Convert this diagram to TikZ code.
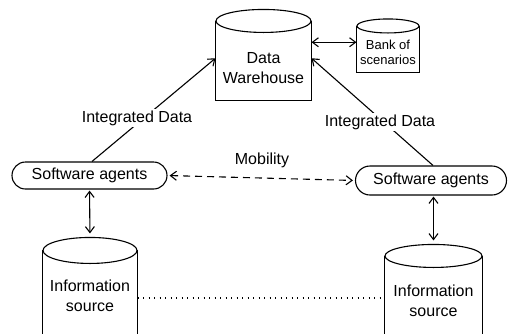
\documentclass[tikz,border=0pt]{standalone}
\usepackage{fontspec}
\setmainfont{Liberation Sans}
\usetikzlibrary{arrows.meta,shapes.misc}

% #1 name, #2 centre x, #3 centre y of the top ellipse, #4 half width,
% #5 vertical radius of the top ellipse, #6 lower end of the sides
\newcommand{\drum}[6]{%
  \node[drumbody, minimum width={2*#4}, minimum height={#6-#3}] (#1) at (#2,{(#3+#6)/2}) {};
  \fill[white] (#1.south west) rectangle (#1.north east);
  \draw (#1.north west) -- (#1.south west);
  \draw (#1.north east) -- (#1.south east);
  \draw[fill=white] (#1.north) ellipse [x radius=#4, y radius=#5];
}

\begin{document}
\begin{tikzpicture}[x=1pt,y=-1pt,
  line width=1.1pt,
  >={Straight Barb[length=6pt,width=9pt]},
  txt/.style={font=\fontsize{16}{19.5}\selectfont, align=center, inner sep=2pt},
  small/.style={font=\fontsize{13}{15}\selectfont, align=center, inner sep=1pt},
  drumbody/.style={rectangle, draw=none, inner sep=0pt},
  agent/.style={rounded rectangle, draw, fill=white, inner sep=0pt,
    font=\fontsize{16}{19}\selectfont},
  cut/.style={fill=white, txt},
  mob/.style={dash pattern=on 7pt off 5pt},
  dots/.style={line width=1.4pt, dash pattern=on 1.4pt off 4.1pt}
]
\useasboundingbox (0,0) rectangle (508,333);

% storage drums
\drum{dw}{263.5}{21.5}{47.5}{11.5}{100}
\draw (dw.south west) -- (dw.south east);
\node[txt] (dwt) at (263.5,68) {Data\\Warehouse};

\drum{bank}{388}{26.5}{31}{7}{72}
\draw (bank.south west) -- (bank.south east);
\node[small] (bankt) at (388,52) {Bank of\\scenarios};

\drum{lis}{90}{251}{47}{13}{333}
\node[txt] (list) at (90,296) {Information\\source};

\drum{ris}{433.5}{256.5}{48.5}{11.5}{333}
\node[txt] (rist) at (433.5,301) {Information\\source};

% agents
\node[agent, minimum width=155pt, minimum height=27pt] (lsa) at (89.5,175.5) {Software agents};
\node[agent, minimum width=151pt, minimum height=29pt] (rsa) at (431,180.5) {Software agents};

% connectors
\draw[<->] ([yshift=7pt]bank.west -| dw.east) -- ([yshift=7pt]bank.west);

\draw[->] ([xshift=2.5pt]lsa.north) -- ([yshift=2.5pt]dw.west);
\node[cut] (lid) at (137,118) {Integrated Data};

\draw[->] ([xshift=2pt]rsa.north) -- ([yshift=2.5pt]dw.east);
\node[cut] (rid) at (380,122) {Integrated Data};

\draw[<->, mob, shorten <=2pt, shorten >=2pt] (lsa.east) -- (rsa.west);
\node[txt] (mobl) at (262,160) {Mobility};

\draw[<->, shorten <=1pt, shorten >=4pt] (lsa.south) -- ([yshift=13pt]lis.north);
\draw[<->, shorten <=1pt, shorten >=4pt] ([xshift=2.5pt]rsa.south) -- ([yshift=11.5pt]ris.north);

\draw[dots] (lis.east |- 0,298) -- (ris.west |- 0,298);
\end{tikzpicture}
\end{document}
